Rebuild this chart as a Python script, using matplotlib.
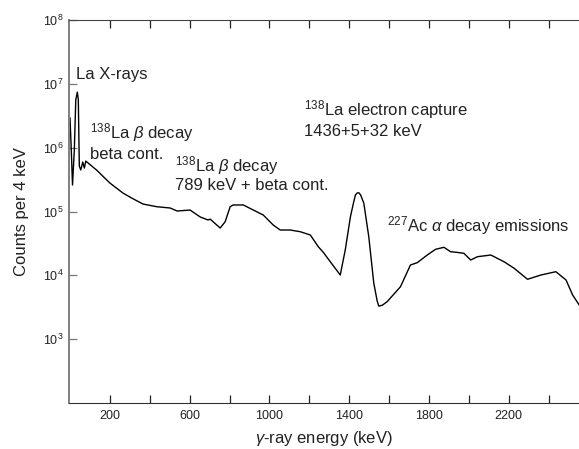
import numpy as np
import matplotlib
matplotlib.use("Agg")
import matplotlib.pyplot as plt
from matplotlib.ticker import FixedLocator, NullLocator

plt.rcParams['font.family'] = ['Liberation Sans', 'DejaVu Sans']
plt.rcParams['mathtext.fontset'] = 'custom'
plt.rcParams['mathtext.rm'] = 'Liberation Sans'
plt.rcParams['mathtext.it'] = 'Liberation Sans:italic'

# spectrum (keV, log10 of counts per 4 keV)
energy = [0, 6.5, 12.6, 21.6, 29, 36.7, 41.7, 46.7, 54, 64, 72, 79,
          133, 200, 265, 309, 366, 435, 502, 537, 602, 653, 692,
          703, 753, 778, 803, 818, 869, 919, 969, 1019, 1054, 1104,
          1155, 1205, 1245, 1270, 1305, 1355, 1380, 1406, 1421, 1431, 1440, 1448,
          1457, 1473, 1498, 1523, 1540, 1548, 1565, 1590, 1657, 1707, 1741, 1791, 1833,
          1875, 1908, 1940, 1975, 2009, 2043, 2110, 2176, 2227, 2294,
          2361, 2436, 2487, 2520, 2553]
log_counts = [6.465, 5.96, 5.415, 5.96, 6.75, 6.87, 6.75, 5.713, 5.65, 5.775, 5.68, 5.79,
              5.65, 5.446, 5.29, 5.211, 5.117, 5.075, 5.055, 5.008, 5.023, 4.914, 4.867,
              4.88, 4.741, 4.84, 5.075, 5.102, 5.102, 5.023, 4.945, 4.788, 4.71, 4.71,
              4.683, 4.632, 4.448, 4.36, 4.213, 4.005, 4.397, 4.918, 5.13, 5.258, 5.29, 5.294,
              5.26, 5.133, 4.605, 3.88, 3.6, 3.519, 3.53, 3.587, 3.822, 4.162, 4.198, 4.318, 4.408,
              4.439, 4.37, 4.36, 4.345, 4.24, 4.292, 4.318, 4.213, 4.11, 3.938,
              4.005, 4.057, 3.927, 3.692, 3.535]
counts = [10 ** v for v in log_counts]

x_major = [200, 600, 1000, 1400, 1800, 2200]
x_minor = [400, 800, 1200, 1600, 2000, 2400]
y_major = [1e3, 1e4, 1e5, 1e6, 1e7, 1e8]

fig = plt.figure(figsize=(5.79, 4.49), dpi=100)
ax = fig.add_axes([69 / 579, 46 / 449, 1 - 69 / 579, 383 / 449])

ax.plot(energy, counts, color='black', linewidth=1.0)

ax.set_yscale('log')
ax.set_xlim(-5, 2552)
ax.set_ylim(1e2, 1e8)

ax.xaxis.set_major_locator(FixedLocator(x_major))
ax.xaxis.set_minor_locator(FixedLocator(x_minor))
ax.yaxis.set_major_locator(FixedLocator(y_major))
ax.yaxis.set_minor_locator(NullLocator())
ax.tick_params(axis='both', which='both', direction='in', length=6, width=0.9,
               labelsize=9, colors='#222222', top=True)
ax.tick_params(axis='y', which='major', labelsize=9, pad=4, color='#777777')
ax.tick_params(axis='x', which='major', pad=5)

ax.spines['right'].set_visible(False)
ax.spines['left'].set_color('#808080')
ax.spines['left'].set_linewidth(1.4)
ax.spines['bottom'].set_color('#333333')
ax.spines['top'].set_color('#444444')

ax.set_xlabel(r'$\gamma$-ray energy (keV)', fontsize=12, color='#222222', labelpad=5)
ax.set_ylabel('Counts per 4 keV', fontsize=12, color='#222222', labelpad=10)

txt = dict(fontsize=12, color='#222222', ha='left', va='center')
ax.text(28, 10 ** 7.15, 'La X-rays', **txt)
ax.text(100, 10 ** 6.23, r'$^{138}$La $\beta$ decay', **txt)
ax.text(100, 10 ** 5.9, 'beta cont.', **txt)
ax.text(525, 10 ** 5.72, r'$^{138}$La $\beta$ decay', **txt)
ax.text(525, 10 ** 5.4, '789 keV + beta cont.', **txt)
ax.text(1175, 10 ** 6.6, r'$^{138}$La electron capture', **txt)
ax.text(1175, 10 ** 6.26, '1436+5+32 keV', **txt)
ax.text(1590, 10 ** 4.78, r'$^{227}$Ac $\alpha$ decay emissions', **txt)

fig.savefig('out.png', dpi=100)
